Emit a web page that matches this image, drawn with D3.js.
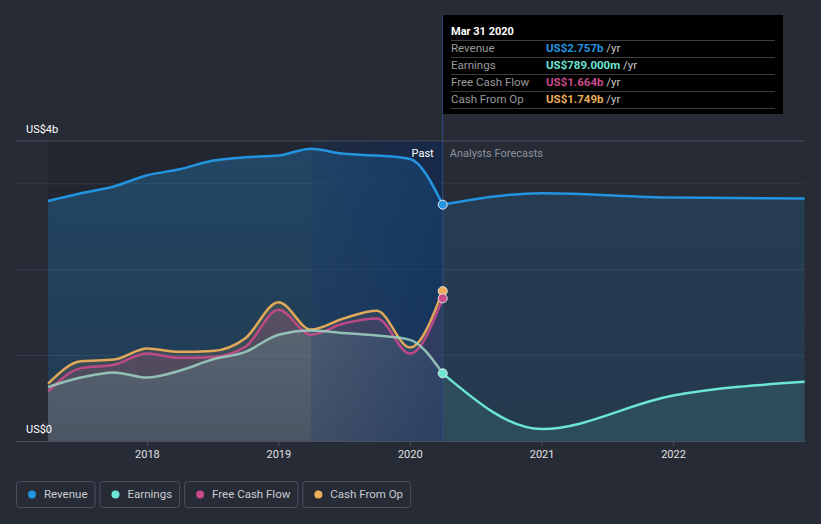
<!DOCTYPE html>
<html>
<head>
<meta charset="utf-8">
<script src="https://cdn.jsdelivr.net/npm/d3@7/dist/d3.min.js"></script>
<style>
  html, body { margin: 0; padding: 0; background: #262b36; }
  svg { display: block; font-family: Roboto, "Noto Sans", sans-serif; }
</style>
</head>
<body>
<svg id="chart" width="821" height="524"></svg>
<script>
// ---------- DATA ----------
const pastDates = ["2017-03-31","2017-06-30","2017-09-30","2017-12-31","2018-03-31","2018-06-30",
  "2018-09-30","2018-12-31","2019-03-31","2019-06-30","2019-09-30","2019-12-31","2020-03-31"];
const revenuePast  = [2.80, 2.89, 2.97, 3.10, 3.17, 3.27, 3.31, 3.33, 3.41, 3.35, 3.33, 3.29, 2.757];
const earningsPast = [0.63, 0.74, 0.80, 0.74, 0.82, 0.95, 1.04, 1.24, 1.29, 1.26, 1.23, 1.18, 0.789];
const fcfPast      = [0.58, 0.85, 0.89, 1.02, 0.97, 0.98, 1.10, 1.53, 1.24, 1.37, 1.43, 1.02, 1.664];
const cfoPast      = [0.67, 0.93, 0.95, 1.08, 1.04, 1.05, 1.20, 1.62, 1.30, 1.43, 1.52, 1.09, 1.749];

const forecastDates = ["2020-03-31","2020-12-31","2021-12-31","2022-12-31"];
const revenueForecast  = [2.757, 2.89, 2.84, 2.83];
const earningsForecast = [0.789, 0.14, 0.53, 0.69];

const yTickValues = [0, 1, 2, 3];
const yLabels = [{v: 3.5, t: "US$4b"}, {v: 0, t: "US$0"}];
const xTickYears = [2018, 2019, 2020, 2021, 2022];

const seriesNames  = ["Revenue", "Earnings", "Free Cash Flow", "Cash From Op"];
const seriesColors = ["#2394df", "#6ce5d4", "#c94a8b", "#ebae5b"];
const tooltipTitle = "Mar 31 2020";
const tooltipValues = ["US$2.757b", "US$789.000m", "US$1.664b", "US$1.749b"];

// ---------- SETUP ----------
const parse = d3.timeParse("%Y-%m-%d");
const svg = d3.select("#chart");
const W = 821, H = 524;
const L = 16, R = 805, T = 141, B = 441;

const x = d3.scaleTime().domain([new Date(2017,0,1), new Date(2023,0,1)]).range([L, R]);
const y = d3.scaleLinear().domain([0, 3.5]).range([B, T]);

const past = pastDates.map(parse);
const fc = forecastDates.map(parse);
const xNow = x(past[past.length-1]);
const xLtm = x(past[past.length-5]);
const xStart = x(past[0]);

const defs = svg.append("defs");
function vGrad(id, color, o1, o2) {
  const g = defs.append("linearGradient").attr("id", id)
    .attr("gradientUnits", "userSpaceOnUse").attr("x1", 0).attr("x2", 0).attr("y1", T).attr("y2", B);
  g.append("stop").attr("offset", 0).attr("stop-color", color).attr("stop-opacity", o1);
  g.append("stop").attr("offset", 1).attr("stop-color", color).attr("stop-opacity", o2);
}
vGrad("gRev", seriesColors[0], 0.30, 0.18);
vGrad("gRevF", seriesColors[0], 0.17, 0.14);
vGrad("gEarn", seriesColors[1], 0.22, 0.10);
vGrad("gEarnF", seriesColors[1], 0.12, 0.10);
vGrad("gFcf", seriesColors[2], 0.25, 0.12);
vGrad("gCfo", seriesColors[3], 0.20, 0.10);
const hg = defs.append("linearGradient").attr("id", "gHi")
  .attr("gradientUnits", "userSpaceOnUse").attr("x1", xLtm).attr("x2", xNow).attr("y1", 0).attr("y2", 0);
hg.append("stop").attr("offset", 0).attr("stop-color", "#08275e").attr("stop-opacity", 0.2);
hg.append("stop").attr("offset", 1).attr("stop-color", "#08275e").attr("stop-opacity", 0.5);

svg.append("rect").attr("width", W).attr("height", H).attr("fill", "#262b36");

// past darkening
svg.append("rect").attr("x", xStart).attr("y", T).attr("width", xLtm - xStart).attr("height", B - T)
  .attr("fill", "#000").attr("opacity", 0.1);

// gridlines
svg.append("g").selectAll("line").data(yTickValues.filter(v => v > 0)).join("line")
  .attr("x1", L).attr("x2", R).attr("y1", d => y(d)).attr("y2", d => y(d))
  .attr("stroke", "#363c49").attr("stroke-width", 1);
svg.append("line").attr("x1", L).attr("x2", R).attr("y1", y(3.5)).attr("y2", y(3.5))
  .attr("stroke", "#4b505c").attr("stroke-width", 1);

const curve = d3.curveMonotoneX;
function mk(dates, vals) { return dates.map((d, i) => ({d, v: vals[i]})); }
const area = d3.area().x(p => x(p.d)).y0(y(0)).y1(p => y(p.v)).curve(curve);
const line = d3.line().x(p => x(p.d)).y(p => y(p.v)).curve(curve);

const revP = mk(past, revenuePast), earnP = mk(past, earningsPast),
      fcfP = mk(past, fcfPast), cfoP = mk(past, cfoPast),
      revF = mk(fc, revenueForecast), earnF = mk(fc, earningsForecast);

// areas
svg.append("path").attr("d", area(revP)).attr("fill", "url(#gRev)");
svg.append("path").attr("d", area(revF)).attr("fill", "url(#gRevF)");
svg.append("path").attr("d", area(earnF)).attr("fill", "url(#gEarnF)");
svg.append("path").attr("d", area(cfoP)).attr("fill", "url(#gCfo)");
svg.append("path").attr("d", area(fcfP)).attr("fill", "url(#gFcf)");
svg.append("path").attr("d", area(earnP)).attr("fill", "url(#gEarn)");

// LTM highlight
svg.append("rect").attr("x", xLtm).attr("y", T).attr("width", xNow - xLtm).attr("height", B - T)
  .attr("fill", "url(#gHi)");

// baseline
svg.append("line").attr("x1", L).attr("x2", R).attr("y1", B + 0.5).attr("y2", B + 0.5)
  .attr("stroke", "#4b505c").attr("stroke-width", 1);

// lines
const lw = 2.5;
svg.append("path").attr("d", line(revP)).attr("fill", "none").attr("stroke", seriesColors[0]).attr("stroke-width", lw);
svg.append("path").attr("d", line(revF)).attr("fill", "none").attr("stroke", seriesColors[0]).attr("stroke-width", lw);
svg.append("path").attr("d", line(cfoP)).attr("fill", "none").attr("stroke", seriesColors[3]).attr("stroke-width", lw).attr("opacity", 0.95);
svg.append("path").attr("d", line(fcfP)).attr("fill", "none").attr("stroke", seriesColors[2]).attr("stroke-width", lw).attr("opacity", 0.9);
svg.append("path").attr("d", line(earnP)).attr("fill", "none").attr("stroke", "#9fd3c3").attr("stroke-width", lw).attr("opacity", 0.85);
svg.append("path").attr("d", line(earnF)).attr("fill", "none").attr("stroke", seriesColors[1]).attr("stroke-width", lw);

// vertical now line
svg.append("line").attr("x1", xNow).attr("x2", xNow).attr("y1", 15).attr("y2", B)
  .attr("stroke", "#2f4c80").attr("stroke-width", 1);

// dots
const dotVals = [revenuePast[12], earningsPast[12], fcfPast[12], cfoPast[12]];
[3, 2, 1, 0].forEach(i => {
  svg.append("circle").attr("cx", xNow).attr("cy", y(dotVals[i])).attr("r", 4.5)
    .attr("fill", seriesColors[i]).attr("stroke", "#e6e6e6").attr("stroke-width", 1);
});

// x axis ticks
const xa = svg.append("g");
xTickYears.forEach(yr => {
  const xx = x(new Date(yr, 0, 1));
  xa.append("line").attr("x1", xx).attr("x2", xx).attr("y1", B + 1).attr("y2", B + 5)
    .attr("stroke", "#4b505c");
  xa.append("text").attr("x", xx).attr("y", 458).attr("text-anchor", "middle")
    .attr("fill", "#e0e0e0").attr("font-size", 11).text(yr);
});

// y labels
yLabels.forEach(l => {
  svg.append("text").attr("x", 26).attr("y", l.v === 0 ? 433 : 133)
    .attr("fill", "#ffffff").attr("font-size", 11).text(l.t);
});

// Past / Forecast labels
svg.append("text").attr("x", xNow - 9).attr("y", 157).attr("text-anchor", "end")
  .attr("fill", "#ffffff").attr("font-size", 11).text("Past");
svg.append("text").attr("x", xNow + 7).attr("y", 157)
  .attr("fill", "#8d929c").attr("font-size", 11).text("Analysts Forecasts");

// tooltip
const tt = svg.append("g");
tt.append("rect").attr("x", 443).attr("y", 15).attr("width", 340).attr("height", 99).attr("fill", "#000");
tt.append("text").attr("x", 451).attr("y", 35).attr("fill", "#fff").attr("font-size", 11)
  .attr("font-weight", "bold").text(tooltipTitle);
[40, 57, 74, 91, 108].forEach(yy => {
  tt.append("line").attr("x1", 451).attr("x2", 775).attr("y1", yy + 0.5).attr("y2", yy + 0.5)
    .attr("stroke", "#3c3c3c");
});
seriesNames.forEach((n, i) => {
  const yy = 52 + i * 17;
  tt.append("text").attr("x", 451).attr("y", yy).attr("fill", "#9a9a9a").attr("font-size", 11.5).text(n);
  const t = tt.append("text").attr("x", 546).attr("y", yy).attr("font-size", 11.5);
  t.append("tspan").attr("fill", seriesColors[i]).attr("font-weight", "bold").text(tooltipValues[i]);
  t.append("tspan").attr("fill", "#c8c8c8").text(" /yr");
});

// legend
let lx = 16;
seriesNames.forEach((n, i) => {
  const g = svg.append("g");
  const txt = g.append("text").attr("x", lx + 28).attr("y", 498).attr("fill", "#c9ccd1")
    .attr("font-size", 11.5).text(n);
  const tw = txt.node().getComputedTextLength();
  const bw = 28 + tw + 7;
  g.insert("rect", "text").attr("x", lx + 0.5).attr("y", 481.5).attr("width", bw).attr("height", 26)
    .attr("rx", 3).attr("fill", "none").attr("stroke", "#4a505c");
  g.append("circle").attr("cx", lx + 16).attr("cy", 494.5).attr("r", 4).attr("fill", seriesColors[i]);
  lx += bw + 5;
});
</script>
</body>
</html>
